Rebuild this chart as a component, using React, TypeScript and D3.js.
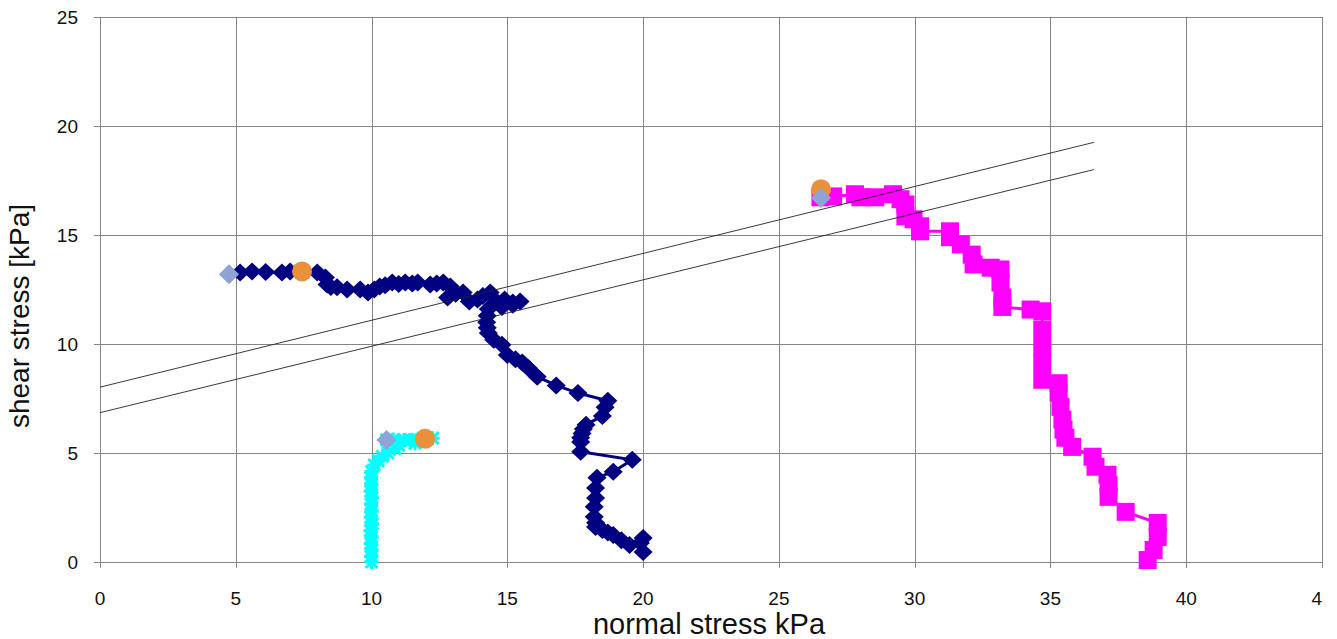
import React, { useEffect, useRef } from "react";
import * as d3 from "d3";

// test paths, [normal stress, shear stress] in kPa
const navyPath: [number, number][] = [
  [4.75, 13.2], [5.16, 13.28], [5.6, 13.33], [6.1, 13.3], [6.7, 13.28], [7.0, 13.33], [7.44, 13.33],
  [8.0, 13.28], [8.3, 13.05], [8.36, 12.73], [8.5, 12.62], [8.73, 12.6], [9.1, 12.5], [9.58, 12.5],
  [9.87, 12.36], [10.1, 12.5], [10.3, 12.64], [10.5, 12.7], [10.76, 12.82], [11.0, 12.75],
  [11.24, 12.82], [11.5, 12.78], [11.7, 12.82], [12.16, 12.73], [12.4, 12.78], [12.64, 12.82],
  [12.9, 12.64], [12.8, 12.13], [13.1, 12.3], [13.37, 12.36], [13.6, 11.95], [13.9, 12.04],
  [14.1, 12.2], [14.37, 12.36], [14.6, 11.95], [14.9, 12.04], [15.2, 11.9], [15.47, 11.95],
  [15.2, 11.8], [14.8, 11.7], [14.3, 11.6], [14.26, 11.3], [14.24, 11.0], [14.26, 10.75],
  [14.3, 10.5], [14.5, 10.2], [14.8, 9.97], [15.0, 9.5], [15.3, 9.3], [15.55, 9.15], [15.77, 8.9],
  [16.1, 8.5], [16.8, 8.1], [17.6, 7.75], [18.7, 7.4], [18.6, 7.1], [18.5, 6.7], [17.9, 6.3],
  [17.8, 6.1], [17.75, 5.9], [17.7, 5.7], [17.7, 5.5], [17.7, 5.06], [19.6, 4.69], [18.9, 4.14],
  [18.3, 3.86], [18.25, 3.4], [18.25, 2.94], [18.2, 2.53], [18.2, 2.07], [18.25, 1.8], [18.25, 1.6],
  [18.5, 1.47], [18.7, 1.35], [18.9, 1.24], [19.2, 1.0], [19.5, 0.78], [19.9, 0.87], [20.0, 1.1],
  [20.0, 0.46],
];

const cyanPath: [number, number][] = [
  [10.55, 5.6], [10.8, 5.62], [11.0, 5.55], [11.2, 5.6], [11.45, 5.6], [11.7, 5.62], [12.0, 5.65],
  [12.25, 5.68], [11.6, 5.45], [11.0, 5.35], [10.85, 5.2], [10.6, 5.0], [10.4, 4.85], [10.25, 4.65],
  [10.1, 4.45], [10.0, 4.15], [9.98, 3.85], [10.0, 3.55], [9.97, 3.25], [10.01, 2.95], [9.98, 2.65],
  [10.0, 2.35], [9.97, 2.05], [10.02, 1.75], [9.96, 1.45], [10.0, 1.15], [9.97, 0.85], [10.01, 0.55],
  [9.98, 0.25], [10.0, 0.0],
];

const magentaPath: [number, number][] = [
  [26.53, 16.73], [27.0, 16.77], [27.8, 16.87], [28.0, 16.73], [28.55, 16.73], [29.2, 16.87],
  [29.48, 16.64], [29.66, 16.4], [29.66, 15.86], [29.96, 15.72], [30.2, 15.4], [30.2, 15.17],
  [31.3, 15.17], [31.3, 14.9], [31.7, 14.57], [32.1, 14.1], [32.17, 13.65], [32.8, 13.5],
  [33.16, 13.42], [33.16, 12.82], [33.23, 12.13], [33.23, 11.7], [34.27, 11.58], [34.7, 11.5],
  [34.7, 10.66], [34.7, 9.88], [34.7, 9.15], [34.7, 8.36], [35.3, 8.2], [35.3, 7.77], [35.37, 7.12],
  [35.44, 6.53], [35.48, 6.07], [35.55, 5.7], [35.8, 5.28], [36.55, 4.83], [36.66, 4.37],
  [37.1, 4.0], [37.14, 3.54], [37.14, 2.99], [37.77, 2.3], [38.95, 1.79], [38.95, 1.15],
  [38.8, 0.55], [38.58, 0.09],
];

const startPoints: [number, number][] = [[4.75, 13.2], [10.55, 5.6], [26.55, 16.7]];
const peakPoints: [number, number][] = [[7.44, 13.33], [11.97, 5.65], [26.55, 17.1]];

// failure envelopes: [x0, y0, x1, y1]
const envelopes: [number, number, number, number][] = [
  [0, 8.02, 36.6, 19.25],
  [0, 6.85, 36.6, 18.0],
];

const xTicks = [0, 5, 10, 15, 20, 25, 30, 35, 40, 45];
const yTicks = [0, 5, 10, 15, 20, 25];

const W = 1323;
const H = 639;
const margin = { left: 100, top: 17, right: 1322, bottom: 562 };

const App = () => {
  const ref = useRef<SVGSVGElement>(null);

  useEffect(() => {
    const svg = d3.select(ref.current);
    svg.selectAll("*").remove();

    const x = d3.scaleLinear().domain([0, 45]).range([margin.left, margin.right]);
    const y = d3.scaleLinear().domain([0, 25]).range([margin.bottom, margin.top]);
    const font = "'Liberation Sans', Arial, sans-serif";

    // grid
    const grid = svg.append("g").attr("stroke", "#858585").attr("stroke-width", 1);
    xTicks.forEach(t => {
      grid.append("line")
        .attr("x1", Math.round(x(t)) + 0.5).attr("x2", Math.round(x(t)) + 0.5)
        .attr("y1", margin.top).attr("y2", margin.bottom + 6);
    });
    yTicks.forEach(t => {
      grid.append("line")
        .attr("x1", margin.left - 6).attr("x2", margin.right)
        .attr("y1", Math.round(y(t)) + 0.5).attr("y2", Math.round(y(t)) + 0.5);
    });

    // tick labels
    svg.append("g").selectAll("text").data(xTicks).enter().append("text")
      .attr("x", d => x(d)).attr("y", 605)
      .attr("text-anchor", "middle")
      .attr("font-family", font).attr("font-size", 19).attr("fill", "#111")
      .text(d => d);
    svg.append("g").selectAll("text").data(yTicks).enter().append("text")
      .attr("x", 78).attr("y", d => y(d) + 7)
      .attr("text-anchor", "end")
      .attr("font-family", font).attr("font-size", 19).attr("fill", "#111")
      .text(d => d);

    // axis titles
    svg.append("text")
      .attr("x", 709).attr("y", 634).attr("text-anchor", "middle")
      .attr("font-family", font).attr("font-size", 29).attr("fill", "#111")
      .text("normal stress kPa");
    svg.append("text")
      .attr("transform", "translate(29,316) rotate(-90)")
      .attr("text-anchor", "middle")
      .attr("font-family", font).attr("font-size", 28).attr("fill", "#111")
      .text("shear stress [kPa]");

    const line = d3.line<[number, number]>().x(d => x(d[0])).y(d => y(d[1]));
    const diamond = (w: number, h: number) => `M0,${-h / 2}L${w / 2},0L0,${h / 2}L${-w / 2},0Z`;

    // navy diamonds
    svg.append("path").datum(navyPath).attr("d", line)
      .attr("fill", "none").attr("stroke", "#000080").attr("stroke-width", 3);
    svg.append("g").selectAll("path").data(navyPath).enter().append("path")
      .attr("transform", d => `translate(${x(d[0])},${y(d[1])})`)
      .attr("d", diamond(19, 18)).attr("fill", "#000080");

    // cyan stars
    svg.append("path").datum(cyanPath).attr("d", line)
      .attr("fill", "none").attr("stroke", "#00ffff").attr("stroke-width", 3);
    svg.append("g").selectAll("path").data(cyanPath).enter().append("path")
      .attr("transform", d => `translate(${x(d[0])},${y(d[1])})`)
      .attr("d", "M-6,-6L6,6M-6,6L6,-6M0,-7L0,7M-7,0L7,0")
      .attr("stroke", "#00ffff").attr("stroke-width", 3).attr("fill", "none");

    // magenta squares
    svg.append("path").datum(magentaPath).attr("d", line)
      .attr("fill", "none").attr("stroke", "#ff00ff").attr("stroke-width", 3);
    svg.append("g").selectAll("rect").data(magentaPath).enter().append("rect")
      .attr("x", d => x(d[0]) - 9).attr("y", d => y(d[1]) - 9)
      .attr("width", 18).attr("height", 18).attr("fill", "#ff00ff");

    // peaks
    svg.append("g").selectAll("circle").data(peakPoints).enter().append("circle")
      .attr("cx", d => x(d[0])).attr("cy", d => y(d[1])).attr("r", 10)
      .attr("fill", "#e8903a");

    // starts
    svg.append("g").selectAll("path").data(startPoints).enter().append("path")
      .attr("transform", d => `translate(${x(d[0])},${y(d[1])})`)
      .attr("d", diamond(20, 20)).attr("fill", "#8fa3d6");

    // envelopes
    svg.append("g").selectAll("line").data(envelopes).enter().append("line")
      .attr("x1", d => x(d[0])).attr("y1", d => y(d[1]))
      .attr("x2", d => x(d[2])).attr("y2", d => y(d[3]))
      .attr("stroke", "#222").attr("stroke-width", 0.9);
  }, []);

  return (
    <svg
      ref={ref}
      width={W}
      height={H}
      style={{ position: "absolute", left: 0, top: 0, background: "#fff", overflow: "hidden" }}
    ></svg>
  );
};

export default App;
